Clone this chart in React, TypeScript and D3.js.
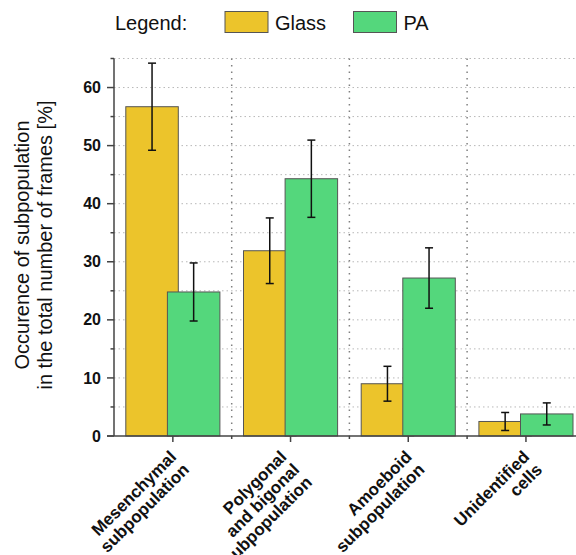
import React from "react";
import * as d3 from "d3";

const categories: string[][] = [
  ["Mesenchymal", "subpopulation"],
  ["Polygonal", "and bigonal", "subpopulation"],
  ["Amoeboid", "subpopulation"],
  ["Unidentified", "cells"],
];
const seriesNames = ["Glass", "PA"];
const glassValues = [56.7, 31.9, 9.0, 2.5];
const glassErrors = [7.5, 5.65, 3.0, 1.55];
const paValues = [24.8, 44.3, 27.2, 3.8];
const paErrors = [5.0, 6.65, 5.2, 1.9];
const yMajorTicks = [0, 10, 20, 30, 40, 50, 60];
const yMinorTicks = [5, 15, 25, 35, 45, 55, 65];
const yTitle = ["Occurence of subpopulation", "in the total number of frames [%]"];

const W = 576;
const H = 555;
const FONT = "'Liberation Sans', Arial, Helvetica, sans-serif";
const COLORS = ["#ECC42B", "#54D77C"];

export default function App() {
  const left = 114;
  const bandW = 117.7;
  const bottom = 436;
  const top = 58.5;

  const x = d3
    .scaleBand<number>()
    .domain(categories.map((_, i) => i))
    .range([left, left + bandW * categories.length])
    .padding(0);
  const y = d3.scaleLinear().domain([0, 65]).range([bottom, top]);

  const barW = 52.5;
  const offset = 20.8;
  const series = [
    { name: seriesNames[0], values: glassValues, errors: glassErrors, shift: -offset, color: COLORS[0] },
    { name: seriesNames[1], values: paValues, errors: paErrors, shift: offset, color: COLORS[1] },
  ];

  const grid = [...yMajorTicks, ...yMinorTicks].filter((v) => v > 0);
  const bounds = categories.map((_, i) => (x(i) as number) + x.bandwidth());

  return (
    <svg
      width={W}
      height={H}
      style={{ position: "absolute", left: 0, top: 0, background: "#fff" }}
      fontFamily={FONT}
    >
      {/* horizontal dotted grid */}
      {grid.map((v) => (
        <line
          key={"g" + v}
          x1={left}
          x2={W}
          y1={y(v)}
          y2={y(v)}
          stroke="#b8b8b8"
          strokeWidth={1}
          strokeDasharray="1.5,3"
        />
      ))}
      {/* vertical group separators */}
      {bounds.map((bx, i) => (
        <line
          key={"v" + i}
          x1={bx}
          x2={bx}
          y1={top}
          y2={bottom}
          stroke="#808080"
          strokeWidth={1.5}
          strokeDasharray="1.5,5"
        />
      ))}

      {/* bars */}
      {series.map((s) =>
        s.values.map((v, i) => {
          const cx = (x(i) as number) + x.bandwidth() / 2 + s.shift;
          return (
            <rect
              key={s.name + i}
              x={cx - barW / 2}
              y={y(v)}
              width={barW}
              height={bottom - y(v)}
              fill={s.color}
              stroke="#555"
              strokeWidth={1}
            />
          );
        })
      )}

      {/* error bars */}
      {series.map((s) =>
        s.values.map((v, i) => {
          const cx = (x(i) as number) + x.bandwidth() / 2 + s.shift;
          const hi = y(v + s.errors[i]);
          const lo = y(v - s.errors[i]);
          return (
            <g key={"e" + s.name + i} stroke="#111" strokeWidth={1.5}>
              <line x1={cx} x2={cx} y1={hi} y2={lo} />
              <line x1={cx - 4} x2={cx + 4} y1={hi} y2={hi} />
              <line x1={cx - 4} x2={cx + 4} y1={lo} y2={lo} />
            </g>
          );
        })
      )}

      {/* y axis */}
      <line x1={left} x2={left} y1={top} y2={bottom} stroke="#444" strokeWidth={1.5} />
      {yMajorTicks.map((v) => (
        <g key={"yt" + v}>
          <line x1={left - 7} x2={left} y1={y(v)} y2={y(v)} stroke="#444" strokeWidth={1.5} />
          <text
            x={left - 13}
            y={y(v)}
            dy="0.35em"
            textAnchor="end"
            fontSize={16}
            fontWeight="bold"
            fill="#111"
          >
            {v}
          </text>
        </g>
      ))}
      {yMinorTicks.map((v) => (
        <line key={"ym" + v} x1={left - 3.5} x2={left} y1={y(v)} y2={y(v)} stroke="#444" strokeWidth={1.5} />
      ))}

      {/* x axis */}
      <line x1={left - 7} x2={W} y1={bottom} y2={bottom} stroke="#444" strokeWidth={1.5} />
      {categories.map((_, i) => {
        const cx = (x(i) as number) + x.bandwidth() / 2;
        return <line key={"xt" + i} x1={cx} x2={cx} y1={bottom} y2={bottom + 6} stroke="#444" strokeWidth={1.5} />;
      })}
      {bounds.map((bx, i) => (
        <line key={"xm" + i} x1={bx} x2={bx} y1={bottom} y2={bottom + 3} stroke="#444" strokeWidth={1.5} />
      ))}

      {/* category labels, rotated and right-aligned under each tick */}
      {categories.map((lines, i) => {
        const cx = (x(i) as number) + x.bandwidth() / 2;
        const lh = 18;
        const dx = lines.length > 2 ? -3 : 4.5;
        return (
          <g key={"xl" + i} transform={`translate(${cx + dx},${bottom + 22}) rotate(-45)`}>
            {lines.map((ln, j) => (
              <text
                key={j}
                x={0}
                y={j * lh}
                textAnchor="end"
                fontSize={17}
                fontWeight="bold"
                fill="#111"
              >
                {ln}
              </text>
            ))}
          </g>
        );
      })}

      {/* y title */}
      <g transform={`translate(22,245) rotate(-90)`}>
        {yTitle.map((ln, j) => (
          <text key={j} x={0} y={j * 23} dy="0.35em" textAnchor="middle" fontSize={20} fill="#111">
            {ln}
          </text>
        ))}
      </g>

      {/* legend */}
      <text x={115} y={30} fontSize={20} fill="#111">
        Legend:
      </text>
      {series.map((s, i) => {
        const bx = i === 0 ? 225 : 353.5;
        return (
          <g key={"lg" + i}>
            <rect x={bx} y={11.5} width={43} height={21} fill={s.color} stroke="#555" strokeWidth={1} />
            <text x={bx + 50} y={30} fontSize={20} fill="#111">
              {s.name}
            </text>
          </g>
        );
      })}
    </svg>
  );
}
